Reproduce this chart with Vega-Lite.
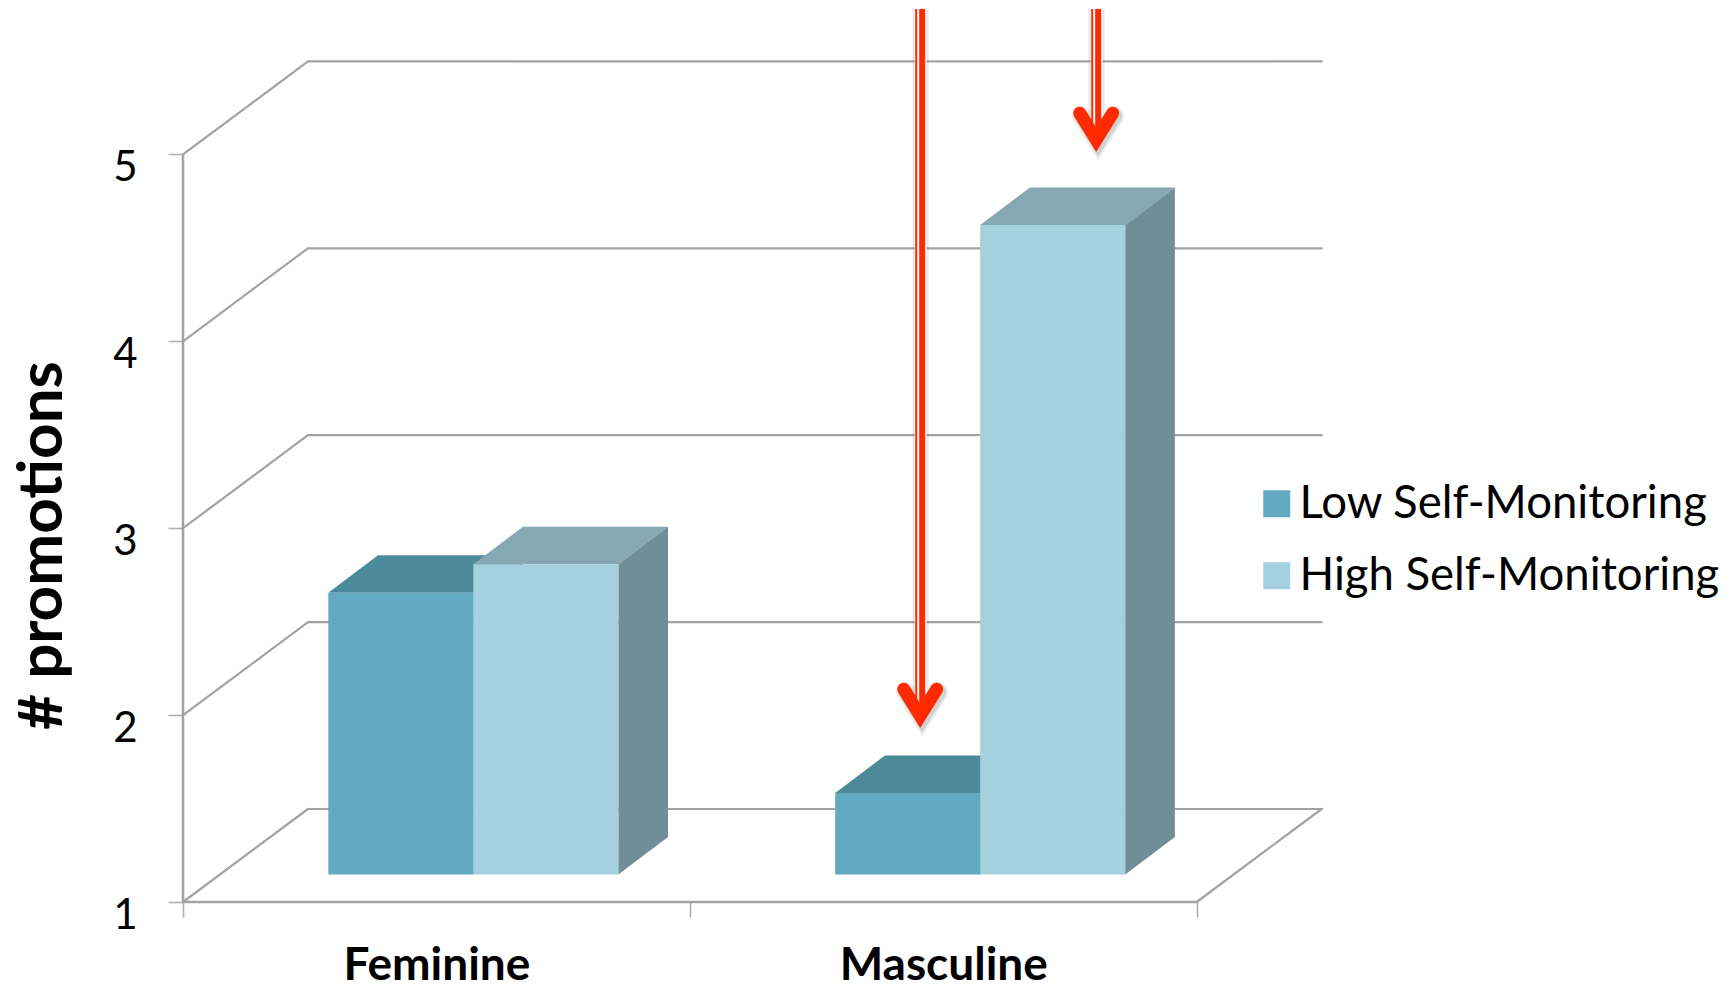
{
  "$schema": "https://vega.github.io/schema/vega-lite/v6.json",
  "autosize": {"type": "none"},
  "padding": {"left": 183, "top": 9, "right": 410, "bottom": 84},
  "width": 1139,
  "height": 893,
  "background": "white",
  "config": {"view": {"stroke": null}, "font": "Lato"},
  "datasets": {
    "promotions": [
      {"group": "Feminine", "series": "Low Self-Monitoring", "value": 2.507},
      {"group": "Feminine", "series": "High Self-Monitoring", "value": 2.66},
      {"group": "Masculine", "series": "Low Self-Monitoring", "value": 1.436},
      {"group": "Masculine", "series": "High Self-Monitoring", "value": 4.475}
    ],
    "levels": [{"level": 1}, {"level": 2}, {"level": 3}, {"level": 4}, {"level": 5}],
    "callouts": [
      {"callout": "Masculine, low", "at": 1.4545, "tip": 1.997},
      {"callout": "Masculine, high", "at": 1.8017, "tip": 5.079}
    ]
  },
  "layer": [
    {
      "data": {"name": "levels"},
      "transform": [
        {"calculate": "0.2466", "as": "depthX"},
        {"calculate": "datum.level + 0.4976", "as": "backY"}
      ],
      "mark": {"type": "rule", "color": "#a3a3a3", "strokeWidth": 2.2, "strokeCap": "round"},
      "encoding": {
        "x": {"field": "depthX", "type": "quantitative",
          "scale": {"domain": [0, 2.2472], "nice": false, "zero": false},
          "axis": {
          "title": null, "values": [0, 0.5, 1, 1.5, 2], "grid": false, "domain": false,
          "labelExpr": "datum.value == 0.5 ? 'Feminine' : datum.value == 1.5 ? 'Masculine' : ''",
          "labelFont": "Lato", "labelFontWeight": "bold", "labelFontSize": 46, "labelColor": "#000000",
          "labelPadding": 26, "labelFlush": false, "labelOverlap": false, "labelLimit": 0,
          "tickSize": 15, "tickWidth": 1.6, "tickColor": "#b0b0b0",
          "tickOpacity": {"expr": "datum.value == 0.5 || datum.value == 1.5 ? 0 : 1"}
        }},
        "x2": {"datum": 2.2466},
        "y": {"field": "backY", "type": "quantitative",
          "scale": {"domain": [1, 5.778], "nice": false, "zero": false},
          "axis": {
          "title": "# promotions", "values": [1, 2, 3, 4, 5], "format": "d", "grid": false, "domain": false,
          "labelFont": "Lato", "labelFontSize": 42, "labelColor": "#000000", "labelOffset": 13,
          "labelPadding": 31, "labelFlush": false, "labelOverlap": false,
          "tickSize": 15, "tickWidth": 1.6, "tickColor": "#b0b0b0",
          "titleFont": "Lato", "titleFontWeight": "bold", "titleFontSize": 62, "titleColor": "#000000",
          "titleAngle": -90, "titleX": -141, "titleY": 536, "titleAlign": "center", "titleBaseline": "middle"
        }},
        "y2": {"field": "backY"}
      }
    },
    {
      "data": {"name": "levels"},
      "mark": {"type": "rule", "color": "#a3a3a3", "strokeWidth": 2.2, "strokeCap": "round"},
      "transform": [
        {"calculate": "datum.level + 0.4976", "as": "backY"},
        {"calculate": "0", "as": "frontX"},
        {"calculate": "0.2466", "as": "depthX"}
      ],
      "encoding": {
        "x": {"field": "frontX", "type": "quantitative"},
        "x2": {"field": "depthX"},
        "y": {"field": "level", "type": "quantitative"},
        "y2": {"field": "backY"}
      }
    },
    {
      "data": {"name": "levels"},
      "transform": [
        {"filter": "datum.level == 1"},
        {"calculate": "0", "as": "leftX"},
        {"calculate": "2", "as": "rightX"},
        {"calculate": "2.2466", "as": "backX"},
        {"calculate": "1.4976", "as": "backY"},
        {"calculate": "5", "as": "wallTop"}
      ],
      "layer": [
        {
          "mark": {"type": "rule", "color": "#a3a3a3", "strokeWidth": 2.2, "strokeCap": "round"},
          "encoding": {
            "x": {"field": "rightX", "type": "quantitative"},
            "x2": {"field": "backX"},
            "y": {"field": "level", "type": "quantitative"},
            "y2": {"field": "backY"}
          }
        },
        {
          "mark": {"type": "rule", "color": "#a3a3a3", "strokeWidth": 2.6},
          "encoding": {
            "x": {"field": "leftX", "type": "quantitative"},
            "x2": {"field": "rightX"},
            "y": {"field": "level", "type": "quantitative"}
          }
        },
        {
          "mark": {"type": "rule", "color": "#a3a3a3", "strokeWidth": 2.6},
          "encoding": {
            "x": {"field": "leftX", "type": "quantitative"},
            "y": {"field": "level", "type": "quantitative"},
            "y2": {"field": "wallTop"}
          }
        }
      ]
    },
    {
      "data": {"name": "promotions"},
      "transform": [
        {"calculate": "datum.group == 'Feminine' ? 0 : 1", "as": "groupIndex"},
        {"calculate": "datum.groupIndex + 0.5728 - (datum.series == 'Low Self-Monitoring' ? 0.2861 : 0)", "as": "left"},
        {"calculate": "datum.left + 0.2861", "as": "right"},
        {"calculate": "1.1477", "as": "base"},
        {"calculate": "datum.value + 0.1477", "as": "top"},
        {"calculate": "[0, 1]", "as": "t"},
        {"flatten": ["t"]},
        {"calculate": "datum.left + datum.t * 0.098", "as": "leftD"},
        {"calculate": "datum.right + datum.t * 0.098", "as": "rightD"},
        {"calculate": "datum.top + datum.t * 0.2", "as": "topD"},
        {"calculate": "datum.base + datum.t * 0.2", "as": "baseD"}
      ],
      "layer": [
        {
          "transform": [{"filter": "datum.series == 'Low Self-Monitoring'"}],
          "mark": {"type": "area", "orient": "horizontal", "color": "#4c8a9a"},
          "encoding": {
            "y": {"field": "topD", "type": "quantitative"},
            "x": {"field": "leftD", "type": "quantitative"},
            "x2": {"field": "rightD"},
            "detail": {"field": "group"}
          }
        },
        {
          "transform": [{"filter": "datum.series == 'Low Self-Monitoring'"}],
          "mark": {"type": "area", "orient": "vertical", "color": "#4f7f8d"},
          "encoding": {
            "x": {"field": "rightD", "type": "quantitative"},
            "y": {"field": "topD", "type": "quantitative"},
            "y2": {"field": "baseD"},
            "detail": {"field": "group"}
          }
        },
        {
          "transform": [{"filter": "datum.series == 'Low Self-Monitoring' && datum.t == 0"}],
          "mark": {"type": "rect"},
          "encoding": {
            "x": {"field": "left", "type": "quantitative"},
            "x2": {"field": "right"},
            "y": {"field": "top", "type": "quantitative"},
            "y2": {"field": "base"},
            "color": {
              "field": "series", "type": "nominal",
              "scale": {"domain": ["Low Self-Monitoring", "High Self-Monitoring"], "range": ["#61aac2", "#a5d1de"]},
              "legend": {
                "title": null, "orient": "none", "legendX": 1071, "legendY": 472,
                "symbolType": "square", "symbolSize": 729, "symbolStrokeWidth": 0,
                "labelFont": "Lato", "labelFontSize": 45.5, "labelColor": "#000000", "labelLimit": 0, "labelOffset": 0,
                "rowPadding": 25, "padding": 0
              }
            }
          }
        },
        {
          "transform": [{"filter": "datum.series == 'High Self-Monitoring'"}],
          "mark": {"type": "area", "orient": "horizontal", "color": "#86a8b5"},
          "encoding": {
            "y": {"field": "topD", "type": "quantitative"},
            "x": {"field": "leftD", "type": "quantitative"},
            "x2": {"field": "rightD"},
            "detail": {"field": "group"}
          }
        },
        {
          "transform": [{"filter": "datum.series == 'High Self-Monitoring'"}],
          "mark": {"type": "area", "orient": "vertical", "color": "#708e98"},
          "encoding": {
            "x": {"field": "rightD", "type": "quantitative"},
            "y": {"field": "topD", "type": "quantitative"},
            "y2": {"field": "baseD"},
            "detail": {"field": "group"}
          }
        },
        {
          "transform": [{"filter": "datum.series == 'High Self-Monitoring' && datum.t == 0"}],
          "mark": {"type": "rect"},
          "encoding": {
            "x": {"field": "left", "type": "quantitative"},
            "x2": {"field": "right"},
            "y": {"field": "top", "type": "quantitative"},
            "y2": {"field": "base"},
            "color": {"field": "series", "type": "nominal"}
          }
        }
      ]
    },
    {
      "data": {"name": "callouts"},
      "transform": [
        {"calculate": "5.778", "as": "shaftTop"},
        {"calculate": "datum.at - 0.0079", "as": "thinX"},
        {"calculate": "datum.at + 0.0039", "as": "thickX"},
        {"calculate": "datum.at + 0.0008", "as": "haloX"},
        {"calculate": "[-1, 0, 1]", "as": "t"},
        {"flatten": ["t"]},
        {"calculate": "datum.at + datum.t * 0.0326", "as": "headX"},
        {"calculate": "datum.tip + abs(datum.t) * 0.1418", "as": "headY"},
        {"calculate": "datum.headX + 0.004", "as": "shadowX"},
        {"calculate": "datum.headY - 0.016", "as": "shadowY"}
      ],
      "layer": [
        {
          "transform": [{"filter": "datum.t == 0"}],
          "mark": {"type": "rule", "color": "#555555", "strokeWidth": 16, "opacity": 0.14},
          "encoding": {
            "x": {"field": "haloX", "type": "quantitative"},
            "y": {"field": "tip", "type": "quantitative"},
            "y2": {"field": "shaftTop"}
          }
        },
        {
          "mark": {"type": "line", "color": "#555555", "strokeWidth": 19, "strokeCap": "round", "strokeJoin": "miter", "opacity": 0.1},
          "encoding": {
            "x": {"field": "shadowX", "type": "quantitative"},
            "y": {"field": "shadowY", "type": "quantitative"},
            "order": {"field": "t"},
            "detail": {"field": "callout"}
          }
        },
        {
          "mark": {"type": "line", "color": "#555555", "strokeWidth": 15, "strokeCap": "round", "strokeJoin": "miter", "opacity": 0.18},
          "encoding": {
            "x": {"field": "shadowX", "type": "quantitative"},
            "y": {"field": "shadowY", "type": "quantitative"},
            "order": {"field": "t"},
            "detail": {"field": "callout"}
          }
        },
        {
          "transform": [{"filter": "datum.t == 0"}],
          "mark": {"type": "rule", "color": "#ffffff", "strokeWidth": 12},
          "encoding": {
            "x": {"field": "haloX", "type": "quantitative"},
            "y": {"field": "tip", "type": "quantitative"},
            "y2": {"field": "shaftTop"}
          }
        },
        {
          "transform": [{"filter": "datum.t == 0"}],
          "mark": {"type": "rule", "color": "#ff2a00", "strokeWidth": 2},
          "encoding": {
            "x": {"field": "thinX", "type": "quantitative"},
            "y": {"field": "tip", "type": "quantitative"},
            "y2": {"field": "shaftTop"}
          }
        },
        {
          "transform": [{"filter": "datum.t == 0"}],
          "mark": {"type": "rule", "color": "#ff2a00", "strokeWidth": 6},
          "encoding": {
            "x": {"field": "thickX", "type": "quantitative"},
            "y": {"field": "tip", "type": "quantitative"},
            "y2": {"field": "shaftTop"}
          }
        },
        {
          "mark": {"type": "line", "color": "#ff2a00", "strokeWidth": 13, "strokeCap": "round", "strokeJoin": "miter"},
          "encoding": {
            "x": {"field": "headX", "type": "quantitative"},
            "y": {"field": "headY", "type": "quantitative"},
            "order": {"field": "t"},
            "detail": {"field": "callout"}
          }
        }
      ]
    }
  ]
}
